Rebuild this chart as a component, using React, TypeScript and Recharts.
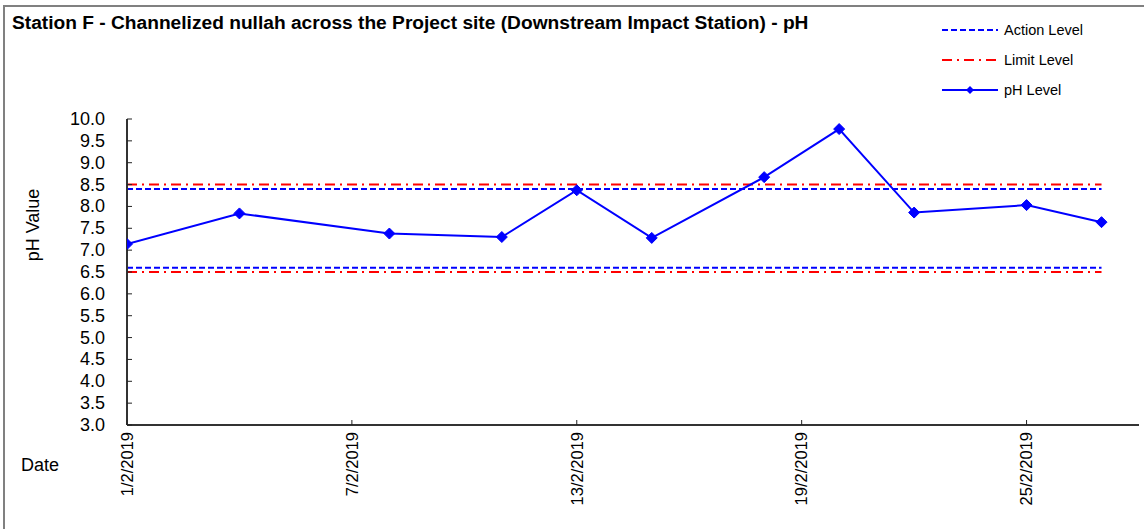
import { LineChart, Line, XAxis, YAxis } from 'recharts'

const FONT = '"Liberation Sans", Arial, Helvetica, sans-serif'
const BLUE = '#0000FF'
const RED = '#FF0000'

// sampling days in February 2019
const sampleDays = [1, 4, 8, 11, 13, 15, 18, 20, 22, 25, 27]
const phValues = [7.14, 7.84, 7.38, 7.3, 8.37, 7.28, 8.67, 9.77, 7.86, 8.03, 7.64]

const actionLevels = [8.4, 6.6]
const limitLevels = [8.5, 6.5]

const xTickDays = [1, 7, 13, 19, 25]
const yTicks = [3.0, 3.5, 4.0, 4.5, 5.0, 5.5, 6.0, 6.5, 7.0, 7.5, 8.0, 8.5, 9.0, 9.5, 10.0]

const legendItems = ['Action Level', 'Limit Level', 'pH Level']

const day = (d: number) => Date.UTC(2019, 1, d)

const data = sampleDays.map((d, i) => ({
  t: day(d),
  ph: phValues[i],
  actionHi: actionLevels[0],
  actionLo: actionLevels[1],
  limitHi: limitLevels[0],
  limitLo: limitLevels[1],
}))

const xDomain = [day(1), day(28)]

const fmtDate = (v: number) => {
  const d = new Date(v)
  return `${d.getUTCDate()}/${d.getUTCMonth() + 1}/${d.getUTCFullYear()}`
}

const Diamond = (props: any) => {
  const { cx, cy, index } = props
  if (cx == null || cy == null) return <g key={`d-${index}`} />
  const r = 5.5
  return (
    <polygon
      key={`d-${index}`}
      points={`${cx},${cy - r} ${cx + r},${cy} ${cx},${cy + r} ${cx - r},${cy}`}
      fill={BLUE}
      stroke={BLUE}
    />
  )
}

const Y_MARGIN = 22
const YTick = (props: any) => {
  const { x, y, payload } = props
  return (
    <g>
      <line x1={x + Y_MARGIN} x2={x + Y_MARGIN + 5} y1={y} y2={y} stroke="#222" />
      <text x={x} y={y} dy={6} textAnchor="end" fontSize={18} fill="#000" fontFamily={FONT}>
        {Number(payload.value).toFixed(1)}
      </text>
    </g>
  )
}

const X_MARGIN = 7
const XTick = (props: any) => {
  const { x, y, payload } = props
  return (
    <g>
      <line x1={x} x2={x} y1={y - X_MARGIN} y2={y - X_MARGIN - 5} stroke="#222" />
      <text
        x={x}
        y={y}
        dy="0.35em"
        textAnchor="end"
        transform={`rotate(-90, ${x}, ${y})`}
        fontSize={16.5}
        fill="#000"
        fontFamily={FONT}
      >
        {fmtDate(payload.value)}
      </text>
    </g>
  )
}

function LegendSample({ kind }: { kind: number }) {
  return (
    <svg width={58} height={10} style={{ display: 'block' }}>
      {kind === 0 && <line x1={1} x2={57} y1={5} y2={5} stroke={BLUE} strokeWidth={2} strokeDasharray="6 3" />}
      {kind === 1 && <line x1={1} x2={57} y1={5} y2={5} stroke={RED} strokeWidth={2} strokeDasharray="10 5 2 5" />}
      {kind === 2 && (
        <g>
          <line x1={1} x2={57} y1={5} y2={5} stroke={BLUE} strokeWidth={2} />
          <polygon points="29,1 33,5 29,9 25,5" fill={BLUE} />
        </g>
      )}
    </svg>
  )
}

export default function App() {
  return (
    <div
      style={{
        position: 'absolute',
        left: 0,
        top: 0,
        width: 1144,
        height: 529,
        overflow: 'hidden',
        background: '#fff',
        fontFamily: FONT,
      }}
    >
      <div
        style={{
          position: 'absolute',
          left: 3,
          top: 5,
          width: 1160,
          height: 560,
          border: '2px solid #808080',
        }}
      />
      <div
        style={{
          position: 'absolute',
          left: 12,
          top: 13,
          fontSize: 17.5,
          fontWeight: 'bold',
          whiteSpace: 'nowrap',
          color: '#000',
          transform: 'scaleX(1.095)',
          transformOrigin: 'left top',
        }}
      >
        Station F - Channelized nullah across the Project site (Downstream Impact Station) - pH
      </div>
      <div style={{ position: 'absolute', left: 941, top: 21 }}>
        {legendItems.map((name, i) => (
          <div key={name} style={{ display: 'flex', alignItems: 'center', height: 30, marginTop: i === 0 ? -6 : 0 }}>
            <LegendSample kind={i} />
            <span style={{ marginLeft: 5, fontSize: 14.5, color: '#000', whiteSpace: 'nowrap' }}>{name}</span>
          </div>
        ))}
      </div>
      <div style={{ position: 'absolute', left: 21, top: 455, fontSize: 18, color: '#000' }}>Date</div>

      <div style={{ position: 'absolute', left: 0, top: 0 }}>
        <LineChart width={1144} height={529} data={data} margin={{ top: 119, right: 5, bottom: 0, left: 0 }}>
          <XAxis
            dataKey="t"
            type="number"
            scale="linear"
            domain={xDomain}
            ticks={xTickDays.map(day)}
            tick={<XTick />}
            tickLine={false}
            tickSize={0}
            tickMargin={X_MARGIN}
            height={104}
            axisLine={{ stroke: '#333', strokeWidth: 2 }}
            allowDataOverflow
            interval={0}
          />
          <XAxis
            xAxisId="top"
            orientation="top"
            type="number"
            domain={xDomain}
            height={0}
            tick={false}
            tickLine={false}
            axisLine={{ stroke: '#808080', strokeWidth: 2 }}
          />
          <YAxis
            type="number"
            domain={[3, 10]}
            ticks={yTicks}
            tick={<YTick />}
            tickLine={false}
            tickSize={0}
            tickMargin={Y_MARGIN}
            width={127}
            interval={0}
            axisLine={{ stroke: '#333', strokeWidth: 2 }}
            label={{
              content: () => (
                <text
                  x={39}
                  y={225}
                  textAnchor="middle"
                  transform="rotate(-90, 39, 225)"
                  fontSize={18}
                  fill="#000"
                  fontFamily={FONT}
                >
                  pH Value
                </text>
              ),
            }}
          />
          <YAxis
            yAxisId="right"
            orientation="right"
            type="number"
            domain={[3, 10]}
            width={0}
            tick={false}
            tickLine={false}
            axisLine={{ stroke: '#808080', strokeWidth: 2 }}
          />
          <Line dataKey="limitHi" stroke={RED} strokeWidth={2} strokeDasharray="10 5 2 5" dot={false} activeDot={false} isAnimationActive={false} />
          <Line dataKey="limitLo" stroke={RED} strokeWidth={2} strokeDasharray="10 5 2 5" dot={false} activeDot={false} isAnimationActive={false} />
          <Line dataKey="actionHi" stroke={BLUE} strokeWidth={2} strokeDasharray="6 3" dot={false} activeDot={false} isAnimationActive={false} />
          <Line dataKey="actionLo" stroke={BLUE} strokeWidth={2} strokeDasharray="6 3" dot={false} activeDot={false} isAnimationActive={false} />
          <Line dataKey="ph" stroke={BLUE} strokeWidth={2} dot={Diamond} activeDot={false} isAnimationActive={false} />
        </LineChart>
      </div>
    </div>
  )
}
